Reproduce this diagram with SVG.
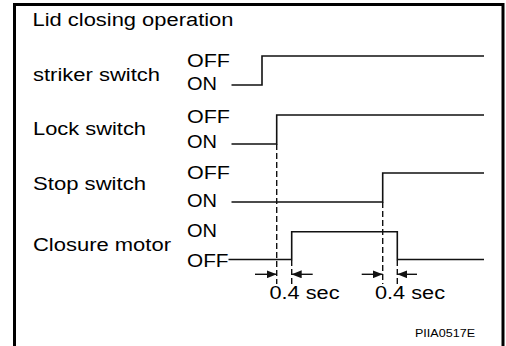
<svg xmlns="http://www.w3.org/2000/svg" width="506" height="346" viewBox="0 0 506 346">
<style>
text{font-family:"Liberation Sans",Arial,sans-serif;font-size:18px;fill:#000}
.w{fill:none;stroke:#111;stroke-width:1.6}
.d{fill:none;stroke:#111;stroke-width:1.4;stroke-dasharray:6,3}
.a{fill:none;stroke:#111;stroke-width:1.4}
.small{font-size:11px}
</style>
<defs>
<marker id="ah" viewBox="0 0 10 8" refX="10" refY="4" markerWidth="10" markerHeight="8" markerUnits="userSpaceOnUse" orient="auto">
<path d="M0,0 L10,4 L0,8 Z" fill="#111"/>
</marker>
</defs>
<rect width="506" height="346" fill="#fff"/>
<path d="M14.5,346 V4.5 H503 V346" fill="none" stroke="#000" stroke-width="3"/>
<text id="title" x="32.5" y="26" textLength="201" lengthAdjust="spacingAndGlyphs">Lid closing operation</text>
<g id="striker">
<text x="33" y="81" textLength="127" lengthAdjust="spacingAndGlyphs">striker switch</text>
<text x="187" y="67" textLength="43" lengthAdjust="spacingAndGlyphs">OFF</text>
<text x="187" y="90" textLength="30" lengthAdjust="spacingAndGlyphs">ON</text>
<path class="w" d="M231.5,85 H262 V56 H484"/>
</g>
<g id="lock">
<text x="33" y="135" textLength="113" lengthAdjust="spacingAndGlyphs">Lock switch</text>
<text x="187" y="123" textLength="43" lengthAdjust="spacingAndGlyphs">OFF</text>
<text x="187" y="148" textLength="30" lengthAdjust="spacingAndGlyphs">ON</text>
<path class="w" d="M231.5,144 H276.7 V115 H484"/>
</g>
<g id="stop">
<text x="33" y="190" textLength="113" lengthAdjust="spacingAndGlyphs">Stop switch</text>
<text x="187" y="179" textLength="43" lengthAdjust="spacingAndGlyphs">OFF</text>
<text x="187" y="207" textLength="30" lengthAdjust="spacingAndGlyphs">ON</text>
<path class="w" d="M231.5,202 H382.7 V173 H484"/>
</g>
<g id="motor">
<text x="33" y="251" textLength="138" lengthAdjust="spacingAndGlyphs">Closure motor</text>
<text x="187" y="237" textLength="30" lengthAdjust="spacingAndGlyphs">ON</text>
<text x="187" y="267" textLength="41.5" lengthAdjust="spacingAndGlyphs">OFF</text>
<path class="w" d="M228.5,259.5 H291.7 V231.7 H397.3 V259.5 H484"/>
</g>
<g id="connectors">
<path class="d" d="M276.7,144 V284"/>
<path class="d" d="M291.7,260 V284"/>
<path class="d" d="M382.7,202 V284"/>
<path class="d" d="M397.3,260 V284"/>
<path class="a" d="M255,274.3 H276.7" marker-end="url(#ah)"/>
<path class="a" d="M312.7,274.3 H291.7" marker-end="url(#ah)"/>
<path class="a" d="M361.7,274.3 H382.7" marker-end="url(#ah)"/>
<path class="a" d="M417,274.3 H397.3" marker-end="url(#ah)"/>
</g>
<g id="labels">
<text x="269.5" y="299.3" textLength="70" lengthAdjust="spacingAndGlyphs">0.4 sec</text>
<text x="375" y="299.3" textLength="70" lengthAdjust="spacingAndGlyphs">0.4 sec</text>
<text class="small" x="415" y="337.3" textLength="60" lengthAdjust="spacingAndGlyphs">PIIA0517E</text>
</g>
</svg>
